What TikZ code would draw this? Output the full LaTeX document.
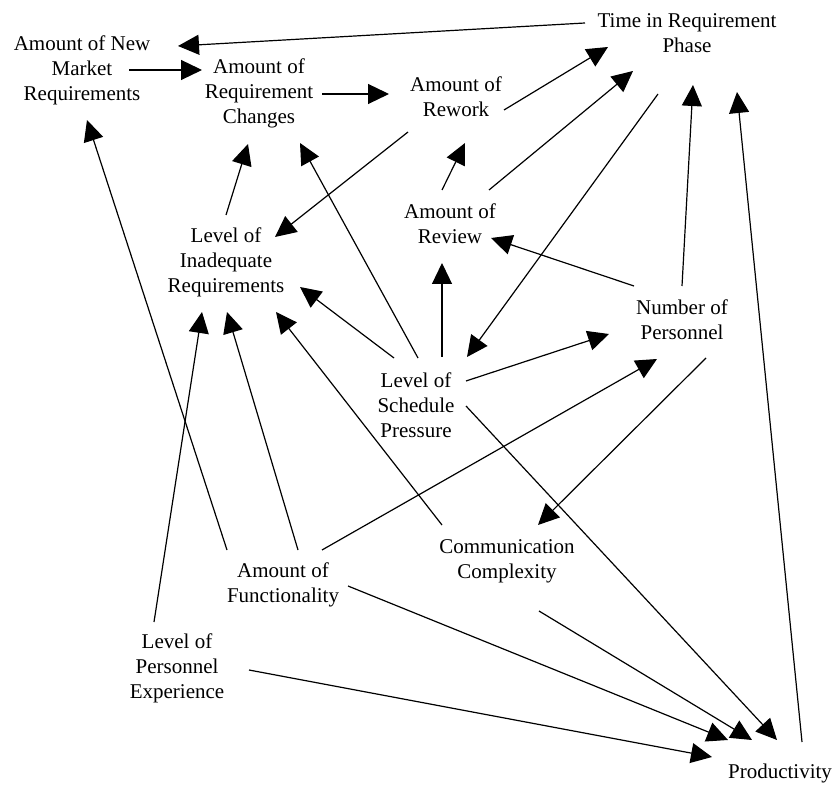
\documentclass[tikz,border=0pt]{standalone}
\usepackage{fontspec}
\setmainfont{Liberation Serif}
\usepackage{tikz}
\usetikzlibrary{arrows.meta}
\usetikzlibrary{calc}

\tikzset{
	var/.style={align=center, inner sep=0pt, black, font=\fontsize{10.5}{12.5}\selectfont},
	arr/.style={-{Triangle[length=10.5pt, width=10pt]}, line width=0.6pt}
}

\begin{document}
\begin{tikzpicture}[x=0.5pt, y=-0.5pt]
		\useasboundingbox (0,0) rectangle (834,785);
		
		\node[var](amNew) at (82,70){Amount of New\\Market\\Requirements};
		\node[var](amChg) at (259,93){Amount of\\Requirement\\Changes};
		\node[var](amRew) at (456,97){Amount of\\Rework};
		\node[var](tReq) at (687,33){Time in Requirement\\Phase};
		\node[var](amRev) at (450,224){Amount of\\Review};
		\node[var](lvInad) at (226,262){Level of\\Inadequate\\Requirements};
		\node[var](nPers) at (682,320){Number of\\Personnel};
		\node[var](lvSched) at (416,405){Level of\\Schedule\\Pressure};
		\node[var](comCx) at (507,561){Communication\\Complexity};
		\node[var](amFunc) at (283,585){Amount of\\Functionality};
		\node[var](lvExp) at (177,668){Level of\\Personnel\\Experience};
		\node[var](prod) at (780,773){Productivity};
		
		% top row
		\draw [arr] ($(tReq)+(-102,-10)$) -- ($(amNew)+(96,-24)$);
		\draw [arr] ($(amNew)+(47,0)$) -- ($(amChg)+(-57,-23)$);
		\draw [arr] ($(amChg)+(63,1)$) -- ($(amRew)+(-67,-3)$);
		\draw [arr] ($(amRew)+(48,13)$) -- ($(tReq)+(-79,14)$);
		\draw [arr] ($(amRev)+(39,-34)$) -- ($(tReq)+(-54,38)$);
		\draw [arr] ($(tReq)+(-29,61)$) -- ($(lvSched)+(51,-48)$);
		\draw [arr] ($(nPers)+(0,-34)$) -- ($(tReq)+(6,52)$);
		\draw [arr] ($(prod)+(22,-31)$) -- ($(tReq)+(50,59)$);
		
		% middle
		\draw [arr] ($(amRew)+(-48,35)$) -- ($(lvInad)+(49,-25)$);
		\draw [arr] ($(lvInad)+(0,-47)$) -- ($(amChg)+(-11,51)$);
		\draw [arr] ($(lvSched)+(2,-47)$) -- ($(amChg)+(41,50)$);
		\draw [arr] ($(amRev)+(-8,-34)$) -- ($(amRew)+(9,46)$);
		\draw [arr] ($(nPers)+(-48,-34)$) -- ($(amRev)+(41,14)$);
		\draw [arr] ($(lvSched)+(26,-48)$) -- ($(amRev)+(-8,39)$);
		\draw [arr] ($(lvSched)+(-22,-47)$) -- ($(lvInad)+(74,25)$);
		\draw [arr] ($(lvSched)+(50,-24)$) -- ($(nPers)+(-73,14)$);
		\draw [arr] ($(amFunc)+(39,-35)$) -- ($(nPers)+(-25,39)$);
		\draw [arr] ($(nPers)+(24,38)$) -- ($(comCx)+(31,-36)$);
		
		% bottom
		\draw [arr] ($(amFunc)+(-56,-35)$) -- ($(amNew)+(5,50)$);
		\draw [arr] ($(amFunc)+(15,-35)$) -- ($(lvInad)+(1,50)$);
		\draw [arr] ($(lvExp)+(-23,-46)$) -- ($(lvInad)+(-24,50)$);
		\draw [arr] ($(comCx)+(-65,-36)$) -- ($(lvInad)+(50,50)$);
		\draw [arr] ($(lvSched)+(50,1)$) -- ($(prod)+(-3,-33)$);
		\draw [arr] ($(comCx)+(32,50)$) -- ($(prod)+(-28,-33)$);
		\draw [arr] ($(amFunc)+(65,1)$) -- ($(prod)+(-52,-33)$);
		\draw [arr] ($(lvExp)+(72,2)$) -- ($(prod)+(-68,-16)$);
		
\end{tikzpicture}
\end{document}
